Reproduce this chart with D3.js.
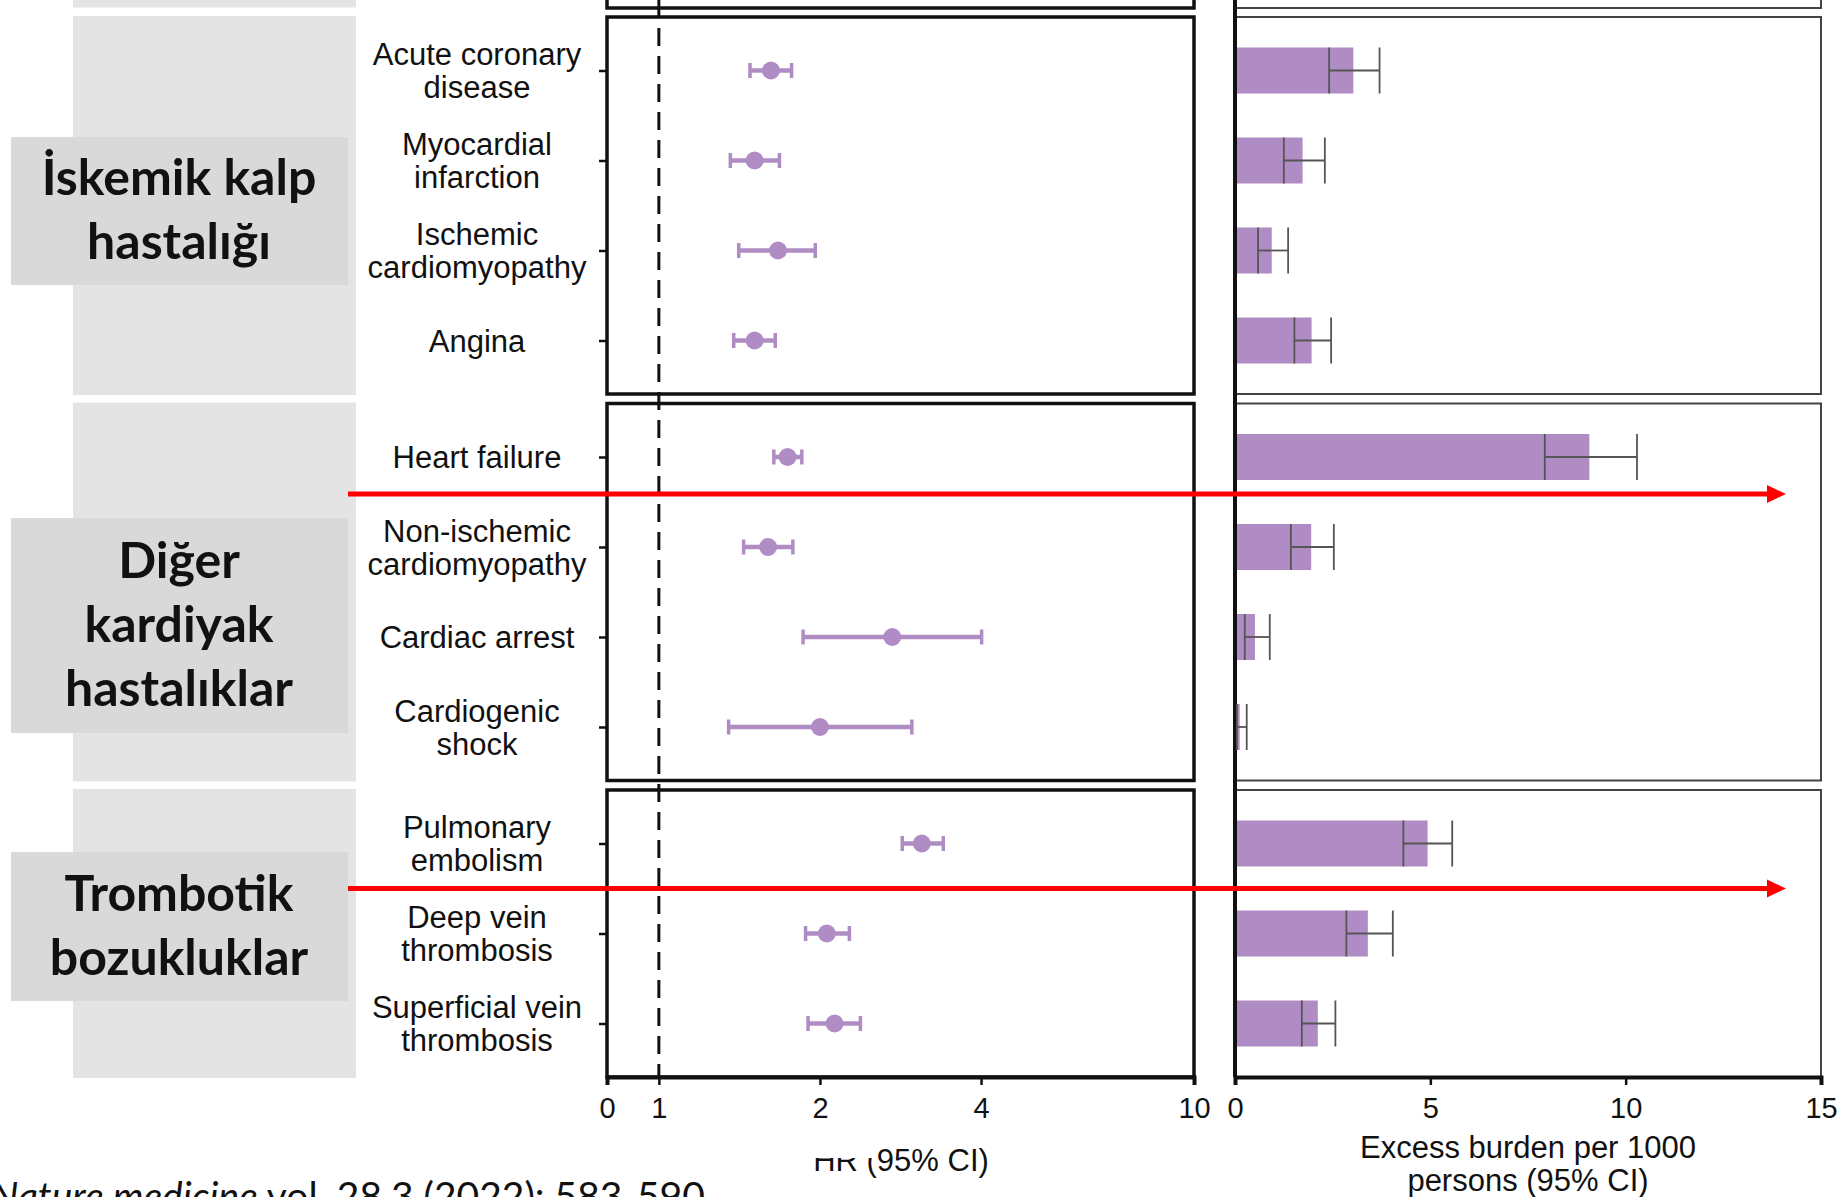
<!DOCTYPE html>
<html>
<head>
<meta charset="utf-8">
<script src="https://cdn.jsdelivr.net/npm/d3@7"></script>
<style>
body { margin: 0; background: #fff; overflow: hidden; }
text { font-family: "Liberation Sans", Arial, sans-serif; fill: #111; }
</style>
</head>
<body>
<div id="chart"></div>
<script>
// outcomes, "|" marks a line break in the label
var outcomes = ["Acute coronary|disease", "Myocardial|infarction", "Ischemic|cardiomyopathy", "Angina",
  "Heart failure", "Non-ischemic|cardiomyopathy", "Cardiac arrest", "Cardiogenic|shock",
  "Pulmonary|embolism", "Deep vein|thrombosis", "Superficial vein|thrombosis"]
var groupOf = [0, 0, 0, 0, 1, 1, 1, 1, 2, 2, 2]
var groupNames = ["İskemik kalp|hastalığı", "Diğer|kardiyak|hastalıklar", "Trombotik|bozukluklar"]

// hazard ratios (95% CI)
var hr   = [1.62, 1.51, 1.67, 1.51, 1.74, 1.60, 2.73, 2.00, 3.10, 2.06, 2.13]
var hrLo = [1.48, 1.36, 1.41, 1.38, 1.64, 1.44, 1.86, 1.35, 2.85, 1.88, 1.90]
var hrHi = [1.77, 1.68, 1.96, 1.65, 1.85, 1.78, 4.01, 2.97, 3.40, 2.27, 2.38]

// excess burden per 1000 persons (95% CI)
var burden   = [3.03, 1.73, 0.94, 1.96, 9.07, 1.95, 0.51, 0.12, 4.93, 3.40, 2.12]
var burdenLo = [2.41, 1.25, 0.59, 1.52, 7.93, 1.43, 0.25, 0.05, 4.31, 2.85, 1.71]
var burdenHi = [3.70, 2.30, 1.36, 2.46, 10.29, 2.53, 0.89, 0.30, 5.56, 4.04, 2.57]

var hrTicks = [0.8, 1, 2, 4, 10]
var hrTickLabels = ["0", "1", "2", "4", "10"]
var burdenTicks = [0, 5, 10, 15]

var citation = ["Nature medicine", " vol. 28,3 (2022): 583-590."]

// layout
var W = 1847, H = 1197
var hrL = 607, hrR = 1194, bL = 1235, bR = 1821
var rowStep = 90, edge = 53.5, boxGap = 9.5, firstTop = 17
var stripL = 73, stripR = 356
var purple = "#b08cc4"
// grey label boxes (y extents) on the left
var labelBoxes = [[137, 285], [518, 733], [852, 1001]]

var svg = d3.select("#chart").append("svg")
  .attr("width", W).attr("height", H)

var xHR = d3.scaleLog().domain([0.8, 10]).range([hrL, hrR])
var xB = d3.scaleLinear().domain([0, 15]).range([bL, bR])

// build one y scale per group box
var boxes = []
var cursor = firstTop
groupNames.forEach(function (g, gi) {
  var idx = d3.range(outcomes.length).filter(function (i) { return groupOf[i] === gi })
  var h = (idx.length - 1) * rowStep + 2 * edge
  var y = d3.scalePoint().domain(idx).range([cursor, cursor + h]).padding(edge / rowStep)
  boxes.push({ gi: gi, idx: idx, top: cursor, h: h, y: y })
  cursor += h + boxGap
})
var axisY = boxes[boxes.length - 1].top + boxes[boxes.length - 1].h
function rowY(i) { return boxes[groupOf[i]].y(i) }

// grey strips behind labels
svg.append("rect").attr("x", stripL).attr("y", 0).attr("width", stripR - stripL)
  .attr("height", firstTop - boxGap).attr("fill", "#e4e4e4")
boxes.forEach(function (b) {
  svg.append("rect").attr("x", stripL).attr("y", b.top - 1).attr("width", stripR - stripL)
    .attr("height", b.h + 2).attr("fill", "#e4e4e4")
})

// partial boxes cut off at the top
svg.append("rect").attr("x", hrL).attr("y", -30).attr("width", hrR - hrL).attr("height", 38)
  .attr("fill", "none").attr("stroke", "#111").attr("stroke-width", 3.5)
svg.append("rect").attr("x", bL).attr("y", -30).attr("width", bR - bL).attr("height", 38)
  .attr("fill", "none").attr("stroke", "#444").attr("stroke-width", 2)

// panel boxes
boxes.forEach(function (b) {
  svg.append("rect").attr("x", hrL).attr("y", b.top).attr("width", hrR - hrL).attr("height", b.h)
    .attr("fill", "none").attr("stroke", "#111").attr("stroke-width", 3.5)
  svg.append("rect").attr("x", bL).attr("y", b.top).attr("width", bR - bL).attr("height", b.h)
    .attr("fill", "none").attr("stroke", "#444").attr("stroke-width", 2)

  var ax = svg.append("g").attr("transform", "translate(" + hrL + ",0)")
    .call(d3.axisLeft(b.y).tickSize(8).tickFormat(""))
  ax.select(".domain").remove()
  ax.selectAll("line").attr("stroke", "#111").attr("stroke-width", 2.5)
})
// thick left axis line of the burden panel
svg.append("line").attr("x1", bL).attr("x2", bL).attr("y1", 0).attr("y2", axisY)
  .attr("stroke", "#111").attr("stroke-width", 4)

// reference line at HR = 1
svg.append("line").attr("x1", xHR(1)).attr("x2", xHR(1)).attr("y1", 0).attr("y2", axisY)
  .attr("stroke", "#111").attr("stroke-width", 3).attr("stroke-dasharray", "18,10")

// outcome labels
outcomes.forEach(function (name, i) {
  var lines = name.split("|")
  var t = svg.append("text").attr("text-anchor", "middle").attr("font-size", 31)
  lines.forEach(function (l, k) {
    t.append("tspan").attr("x", 477)
      .attr("y", rowY(i) + 11 + (k - (lines.length - 1) / 2) * 33).text(l)
  })
})

// HR points with CI
var hrG = svg.append("g")
outcomes.forEach(function (name, i) {
  var y = rowY(i)
  hrG.append("line").attr("x1", xHR(hrLo[i])).attr("x2", xHR(hrHi[i])).attr("y1", y).attr("y2", y)
    .attr("stroke", purple).attr("stroke-width", 4.5)
  ;[hrLo[i], hrHi[i]].forEach(function (v) {
    hrG.append("line").attr("x1", xHR(v)).attr("x2", xHR(v)).attr("y1", y - 7.5).attr("y2", y + 7.5)
      .attr("stroke", purple).attr("stroke-width", 3.5)
  })
  hrG.append("circle").attr("cx", xHR(hr[i])).attr("cy", y).attr("r", 9).attr("fill", purple)
})

// burden bars with CI
var bG = svg.append("g")
var barH = 46
outcomes.forEach(function (name, i) {
  var y = rowY(i)
  bG.append("rect").attr("x", xB(0) + 2).attr("y", y - barH / 2)
    .attr("width", Math.max(0, xB(burden[i]) - xB(0) - 2)).attr("height", barH).attr("fill", purple)
  bG.append("line").attr("x1", xB(burdenLo[i])).attr("x2", xB(burdenHi[i])).attr("y1", y).attr("y2", y)
    .attr("stroke", "#555").attr("stroke-width", 1.8)
  ;[burdenLo[i], burdenHi[i]].forEach(function (v) {
    bG.append("line").attr("x1", xB(v)).attr("x2", xB(v)).attr("y1", y - barH / 2).attr("y2", y + barH / 2)
      .attr("stroke", "#555").attr("stroke-width", 1.8)
  })
})

// x axes
var axHR = svg.append("g").attr("transform", "translate(0," + axisY + ")")
  .call(d3.axisBottom(xHR).tickValues(hrTicks).tickSize(8)
    .tickFormat(function (d, i) { return hrTickLabels[i] }))
var axB = svg.append("g").attr("transform", "translate(0," + axisY + ")")
  .call(d3.axisBottom(xB).tickValues(burdenTicks).tickSize(8).tickFormat(d3.format("d")))
;[axHR, axB].forEach(function (a) {
  a.select(".domain").attr("stroke", "#111").attr("stroke-width", 4)
  a.selectAll(".tick line").attr("stroke", "#111").attr("stroke-width", 2.5)
  a.selectAll(".tick text").attr("font-size", 29).attr("fill", "#111")
    .attr("font-family", "Liberation Sans, Arial, sans-serif").attr("dy", "1.05em")
})

// axis titles
svg.append("text").attr("x", 901).attr("y", 1171).attr("text-anchor", "middle")
  .attr("font-size", 31).text("HR (95% CI)")
// the top of "HR (" is masked in the original picture
svg.append("rect").attr("x", 806).attr("y", 1135).attr("width", 72).attr("height", 23).attr("fill", "#fff")
var bt = svg.append("text").attr("text-anchor", "middle").attr("font-size", 31)
bt.append("tspan").attr("x", 1528).attr("y", 1158).text("Excess burden per 1000")
bt.append("tspan").attr("x", 1528).attr("y", 1191).text("persons (95% CI)")

// grey group label boxes
groupNames.forEach(function (g, gi) {
  var yb = labelBoxes[gi]
  svg.append("rect").attr("x", 11).attr("y", yb[0]).attr("width", 337).attr("height", yb[1] - yb[0])
    .attr("fill", "#d9d9d9")
  var lines = g.split("|")
  var cy = (yb[0] + yb[1]) / 2 + 16
  var t = svg.append("text").attr("text-anchor", "middle").attr("font-size", 50)
    .attr("font-weight", "bold").style("font-family", "Lato, 'Open Sans', sans-serif")
  lines.forEach(function (l, k) {
    t.append("tspan").attr("x", 179).attr("y", cy + (k - (lines.length - 1) / 2) * 64).text(l)
  })
})

// red arrows
var arrows = [rowY(4) + 37, rowY(8) + 45]
arrows.forEach(function (y) {
  svg.append("line").attr("x1", 348).attr("x2", 1770).attr("y1", y).attr("y2", y)
    .attr("stroke", "#ff0000").attr("stroke-width", 5)
  svg.append("path").attr("d", "M1767," + (y - 9) + "L1786," + y + "L1767," + (y + 9) + "Z")
    .attr("fill", "#ff0000")
})

// citation, cut off at the left and bottom edges
var ct = svg.append("text").attr("x", 714).attr("y", 1210).attr("text-anchor", "end")
  .attr("font-size", 39).style("font-family", "Lato, 'Open Sans', sans-serif")
ct.append("tspan").attr("font-style", "italic").text(citation[0])
ct.append("tspan").text(citation[1])
</script>
</body>
</html>
